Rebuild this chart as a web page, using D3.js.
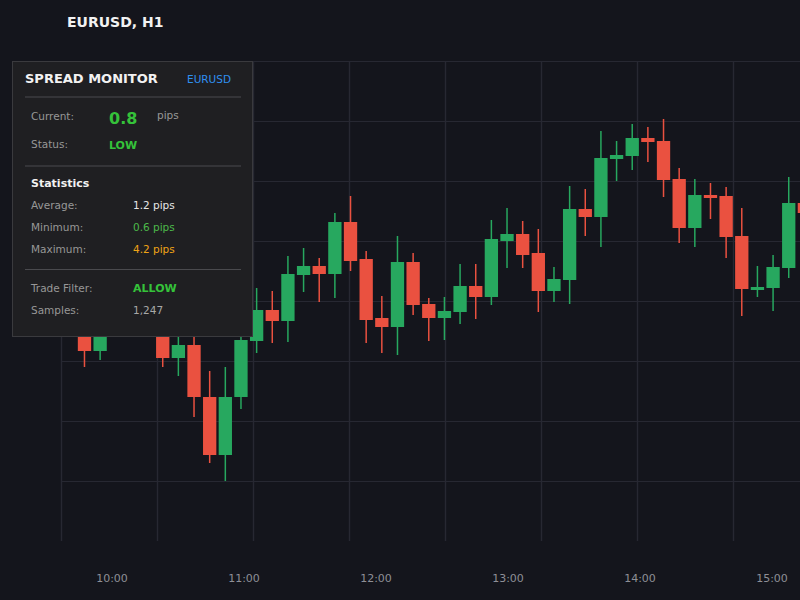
<!DOCTYPE html>
<html>
<head>
<meta charset="utf-8">
<script src="https://cdn.jsdelivr.net/npm/d3@7"></script>
<style>
  html, body { margin: 0; padding: 0; background: #14151c; }
  svg { display: block; font-family: "DejaVu Sans", sans-serif; }
</style>
</head>
<body>
<svg id="chart" width="800" height="600"></svg>
<script>
// ---- Data ----
const candleIndex = d3.range(48);
const opens  = [1.08223,1.08213,1.08190,1.08211,1.08223,1.08219,1.08226,1.08183,1.08196,1.08144,1.08086,1.08144,
                1.08200,1.08231,1.08220,1.08266,1.08275,1.08267,1.08319,1.08282,1.08223,1.08214,1.08279,1.08237,
                1.08223,1.08229,1.08255,1.08244,1.08300,1.08307,1.08288,1.08250,1.08261,1.08332,1.08324,1.08382,
                1.08385,1.08403,1.08400,1.08362,1.08313,1.08346,1.08345,1.08305,1.08251,1.08253,1.08273,1.08338];
const highs  = [1.08241,1.08219,1.08219,1.08231,1.08236,1.08241,1.08233,1.08211,1.08208,1.08170,1.08174,1.08211,
                1.08253,1.08250,1.08285,1.08293,1.08283,1.08328,1.08345,1.08290,1.08245,1.08305,1.08288,1.08243,
                1.08244,1.08277,1.08277,1.08321,1.08333,1.08320,1.08312,1.08274,1.08355,1.08352,1.08410,1.08400,
                1.08417,1.08414,1.08422,1.08373,1.08362,1.08358,1.08354,1.08333,1.08275,1.08286,1.08364,1.08346];
const lows   = [1.08208,1.08174,1.08181,1.08207,1.08211,1.08213,1.08174,1.08165,1.08124,1.08078,1.08060,1.08132,
                1.08188,1.08198,1.08199,1.08249,1.08239,1.08243,1.08270,1.08198,1.08188,1.08186,1.08226,1.08200,
                1.08201,1.08217,1.08222,1.08236,1.08273,1.08273,1.08229,1.08239,1.08237,1.08305,1.08294,1.08360,
                1.08371,1.08379,1.08344,1.08298,1.08294,1.08322,1.08283,1.08225,1.08244,1.08230,1.08263,1.08316];
const closes = [1.08216,1.08190,1.08211,1.08223,1.08219,1.08229,1.08183,1.08196,1.08144,1.08086,1.08144,1.08201,
                1.08231,1.08220,1.08267,1.08275,1.08267,1.08319,1.08280,1.08221,1.08214,1.08279,1.08236,1.08223,
                1.08230,1.08255,1.08244,1.08302,1.08307,1.08286,1.08250,1.08262,1.08332,1.08324,1.08383,1.08386,
                1.08403,1.08399,1.08361,1.08313,1.08346,1.08343,1.08304,1.08252,1.08254,1.08274,1.08338,1.08328];
const timeLabels = ["10:00","11:00","12:00","13:00","14:00","15:00"];

const panelTitle = "SPREAD MONITOR";
const symbol = "EURUSD";
const chartTitle = "EURUSD, H1";
const currentSpread = "0.8";
const statusText = "LOW";
const avgSpread = "1.2 pips";
const minSpread = "0.6 pips";
const maxSpread = "4.2 pips";
const tradeFilter = "ALLOW";
const samples = "1,247";

// ---- Layout ----
const svg = d3.select("#chart");
const plot = { left: 61, top: 61, bottom: 541, step: 15.65 };
const colors = { up: "#27a85f", down: "#ea5140", grid: "#272832", bg: "#14151c" };

svg.append("rect").attr("width", 800).attr("height", 600).attr("fill", colors.bg);

const x = d3.scaleBand()
  .domain(candleIndex)
  .range([plot.left, plot.left + candleIndex.length * plot.step])
  .paddingInner(0.15).paddingOuter(0.075);

const y = d3.scaleLinear().domain([1.08000, 1.08480]).range([plot.bottom, plot.top]);

const xGrid = d3.scaleLinear().domain([0, 8]).range([plot.left, plot.left + 8 * 96]);

const parse = d3.timeParse("%H:%M");
const xTime = d3.scaleTime()
  .domain([parse("10:00"), parse("15:00")])
  .range([112, 772]);

// grid
const g = svg.append("g");
g.selectAll("line.h")
  .data(d3.range(1, 9).map(k => 1.08000 + k * 0.0006))
  .join("line")
  .attr("x1", plot.left).attr("x2", 800)
  .attr("y1", d => Math.round(y(d)) + 0.5).attr("y2", d => Math.round(y(d)) + 0.5)
  .attr("stroke", colors.grid).attr("stroke-width", 1.2);
g.selectAll("line.v")
  .data(d3.range(0, 8))
  .join("line")
  .attr("x1", d => Math.round(xGrid(d)) + 0.5).attr("x2", d => Math.round(xGrid(d)) + 0.5)
  .attr("y1", plot.top).attr("y2", plot.bottom)
  .attr("stroke", colors.grid).attr("stroke-width", 1.4);

// candles
const candles = candleIndex.map(i => ({ i, o: opens[i], h: highs[i], l: lows[i], c: closes[i] }));
const cg = svg.append("g");
const cs = cg.selectAll("g.c").data(candles).join("g");
cs.append("line")
  .attr("x1", d => x(d.i) + x.bandwidth() / 2)
  .attr("x2", d => x(d.i) + x.bandwidth() / 2)
  .attr("y1", d => y(d.h)).attr("y2", d => y(d.l))
  .attr("stroke", d => d.c >= d.o ? colors.up : colors.down)
  .attr("stroke-width", 1.5);
cs.append("rect")
  .attr("x", d => x(d.i))
  .attr("width", x.bandwidth())
  .attr("y", d => y(Math.max(d.o, d.c)))
  .attr("height", d => Math.max(2, Math.abs(y(d.o) - y(d.c))))
  .attr("fill", d => d.c >= d.o ? colors.up : colors.down);

// time axis labels
svg.append("g").selectAll("text")
  .data(timeLabels)
  .join("text")
  .attr("x", d => xTime(parse(d)))
  .attr("y", 582)
  .attr("text-anchor", "middle")
  .attr("font-size", 11)
  .attr("fill", "#8e8f96")
  .text(d => d);

// title
svg.append("text").attr("x", 67).attr("y", 27)
  .attr("font-size", 14).attr("font-weight", "bold").attr("fill", "#f2f2f2")
  .text(chartTitle);

// panel
const p = svg.append("g");
p.append("rect").attr("x", 12.5).attr("y", 61.5).attr("width", 240).attr("height", 275)
  .attr("fill", "#1f1f22").attr("stroke", "#3a3a3e").attr("stroke-width", 1);
p.append("text").attr("x", 25).attr("y", 83).attr("font-size", 13).attr("font-weight", "bold")
  .attr("fill", "#f2f2f2").text(panelTitle);
p.append("text").attr("x", 187).attr("y", 83).attr("font-size", 10.5)
  .attr("fill", "#2f8ff0").text(symbol);

const seps = [97, 166, 269.5];
p.selectAll("line.sep").data(seps).join("line")
  .attr("x1", 25).attr("x2", 241).attr("y1", d => d).attr("y2", d => d)
  .attr("stroke", "#4a4a4e").attr("stroke-width", 1.2);

const labels = [
  ["Current:", 120], ["Status:", 148], ["Average:", 209], ["Minimum:", 231],
  ["Maximum:", 252.5], ["Trade Filter:", 292], ["Samples:", 313.5]
];
p.selectAll("text.lbl").data(labels).join("text")
  .attr("x", 31).attr("y", d => d[1]).attr("font-size", 10.5).attr("fill", "#979797")
  .text(d => d[0]);

p.append("text").attr("x", 109).attr("y", 124.3).attr("font-size", 16).attr("font-weight", "bold")
  .attr("fill", "#35c23a").text(currentSpread);
p.append("text").attr("x", 157).attr("y", 119).attr("font-size", 10.5).attr("fill", "#979797").text("pips");
p.append("text").attr("x", 109).attr("y", 149).attr("font-size", 11).attr("font-weight", "bold")
  .attr("fill", "#35c23a").text(statusText);
p.append("text").attr("x", 31).attr("y", 187).attr("font-size", 11).attr("font-weight", "bold")
  .attr("fill", "#f2f2f2").text("Statistics");

const values = [
  [avgSpread, 209, "#e6e6e6", "normal"],
  [minSpread, 231, "#4cb84a", "normal"],
  [maxSpread, 252.5, "#f0a416", "normal"],
  [tradeFilter, 292, "#35c23a", "bold"],
  [samples, 313.5, "#a8a8a8", "normal"]
];
p.selectAll("text.val").data(values).join("text")
  .attr("x", 133).attr("y", d => d[1]).attr("font-size", d => d[3] === "bold" ? 11 : 10.5)
  .attr("font-weight", d => d[3]).attr("fill", d => d[2])
  .text(d => d[0]);
</script>
</body>
</html>
